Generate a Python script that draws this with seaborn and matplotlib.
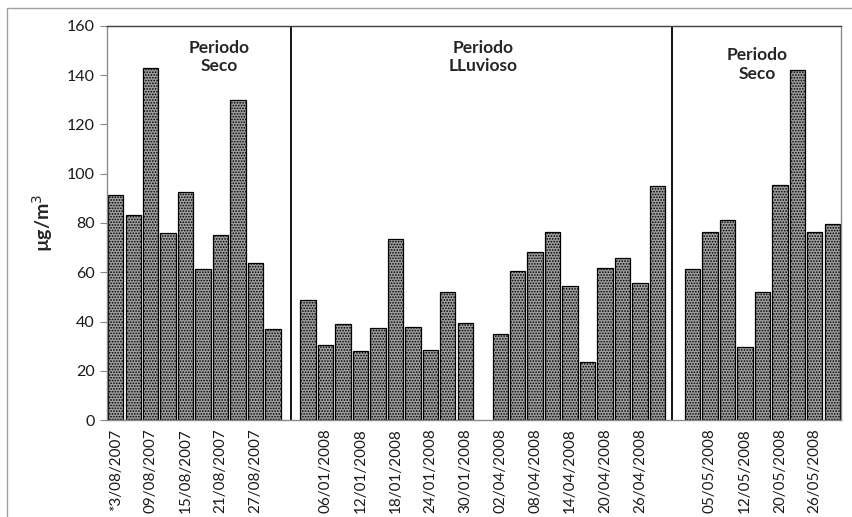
import numpy as np
import pandas as pd
import matplotlib
matplotlib.use("Agg")
import matplotlib.pyplot as plt
import seaborn as sns
from matplotlib.patches import Rectangle

# ---- data ----
fechas = [
    "*3/08/2007", "06/08/2007", "09/08/2007", "12/08/2007", "15/08/2007",
    "18/08/2007", "21/08/2007", "24/08/2007", "27/08/2007", "30/08/2007",
    "gap1",
    "03/01/2008", "06/01/2008", "09/01/2008", "12/01/2008", "15/01/2008",
    "18/01/2008", "21/01/2008", "24/01/2008", "27/01/2008", "30/01/2008",
    "gap2",
    "02/04/2008", "05/04/2008", "08/04/2008", "11/04/2008", "14/04/2008",
    "17/04/2008", "20/04/2008", "23/04/2008", "26/04/2008", "29/04/2008",
    "gap3",
    "02/05/2008", "05/05/2008", "08/05/2008", "12/05/2008", "16/05/2008",
    "20/05/2008", "23/05/2008", "26/05/2008", "29/05/2008",
]
concentracion = [
    91.3, 83.3, 143.0, 76.0, 92.4, 61.4, 75.3, 129.9, 63.9, 36.9,
    np.nan,
    48.6, 30.5, 39.0, 28.1, 37.3, 73.3, 37.7, 28.6, 52.0, 39.4,
    np.nan,
    35.1, 60.4, 68.2, 76.2, 54.4, 23.5, 61.8, 65.6, 55.8, 95.2,
    np.nan,
    61.4, 76.5, 81.3, 29.6, 52.0, 95.4, 142.1, 76.2, 79.7,
]
periodos = ["Periodo\nSeco", "Periodo\nLLuvioso", "Periodo\nSeco"]
yticks = [0, 20, 40, 60, 80, 100, 120, 140, 160]

df = pd.DataFrame({"fecha": fechas, "conc": concentracion})

# ---- style ----
sns.set_style("white")
plt.rcParams["font.family"] = ["Lato", "DejaVu Sans"]
plt.rcParams["hatch.linewidth"] = 0.8

fig = plt.figure(figsize=(8.52, 5.17), dpi=100)
ax = fig.add_axes([107 / 852, 1 - 420 / 517, (841 - 107) / 852, (420 - 26) / 517])

sns.barplot(data=df, x="fecha", y="conc", order=fechas, ax=ax,
            color="#9e9e9e", width=0.88, edgecolor="black", linewidth=0.9,
            saturation=1)
for p in ax.patches:
    p.set_hatch("......")

n = len(fechas)
ax.set_xlim(-0.5, n - 0.5)
ax.set_ylim(0, 160)
ax.set_yticks(yticks)
ax.set_yticklabels([str(v) for v in yticks], fontsize=11.5, color="#1a1a1a")

# x labels: every second category, skipping gaps
labels = [f if (i % 2 == 0 and not f.startswith("gap")) else "" for i, f in enumerate(fechas)]
ax.set_xticks(range(n))
ax.set_xticklabels(labels, rotation=90, fontsize=11, color="#1a1a1a")
ax.tick_params(axis="x", length=0, pad=6)
ax.set_xticks(np.arange(-0.5, n, 1), minor=True)
ax.tick_params(axis="x", which="minor", length=4, direction="out", color="#888888", width=0.8)
ax.tick_params(axis="y", length=5, direction="out", color="#888888", width=0.8, pad=4, left=True)

ax.set_xlabel("")
ax.set_ylabel("µg/m$^{3}$", fontsize=14, fontweight="bold", labelpad=8)

for side in ["left", "bottom", "right"]:
    ax.spines[side].set_color("#8a8a8a")
    ax.spines[side].set_linewidth(1.0)
ax.spines["top"].set_color("#404040")
ax.spines["top"].set_linewidth(1.0)

# period separators
for xv in [10, 31.85]:
    ax.axvline(xv, color="black", linewidth=1.3)

# period labels
kw = dict(ha="center", va="top", fontsize=12.5, fontweight="bold", linespacing=1.2)
ax.text(5.9, 154.5, periodos[0], **kw)
ax.text(21.0, 154.5, periodos[1], **kw)
ax.text(36.7, 151.5, periodos[2], **kw)

# outer chart border
fig.patches.append(Rectangle((7 / 852, -0.1), 1.2, 1 - 8 / 517 + 0.1, transform=fig.transFigure,
                             fill=False, edgecolor="#a0a0a0", linewidth=1.0))

fig.savefig("out.png", dpi=100)
